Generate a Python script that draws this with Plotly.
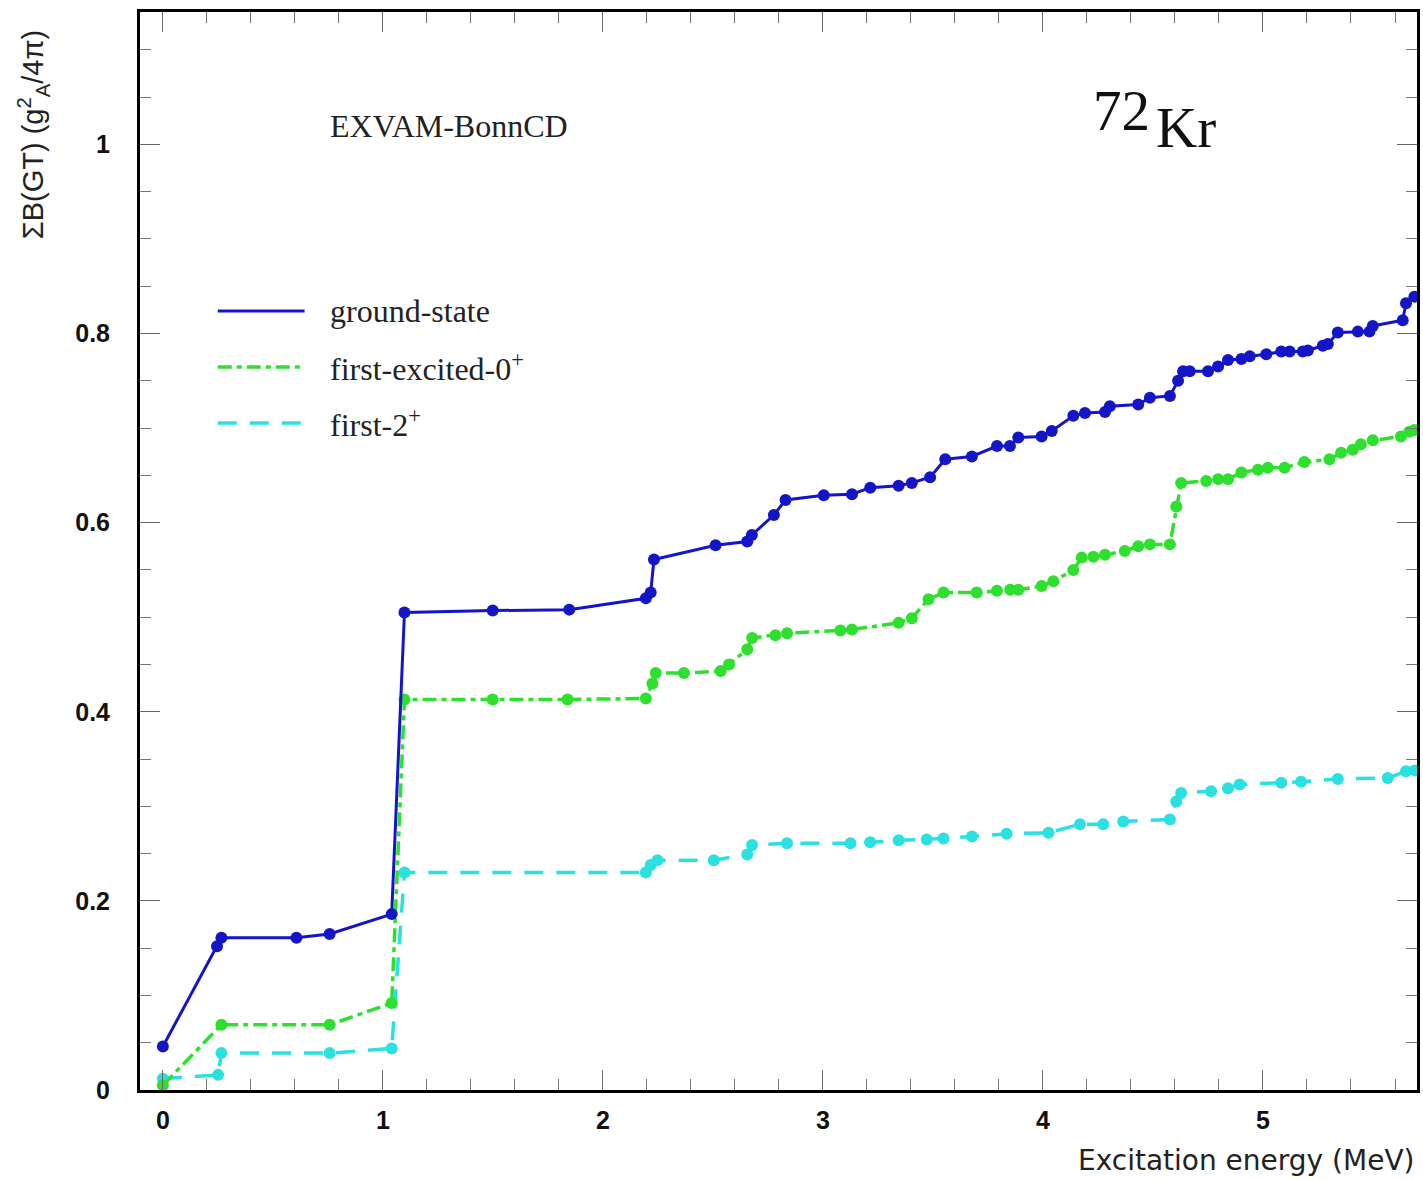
import plotly.graph_objects as go

# ---------------- data ----------------
gs_x = [0, 0.246, 0.266, 0.607, 0.758, 1.040, 1.098, 1.499, 1.847, 2.195, 2.217, 2.232,
        2.512, 2.656, 2.677, 2.777, 2.830, 3.004, 3.132, 3.215, 3.344, 3.404, 3.487, 3.556,
        3.677, 3.791, 3.850, 3.888, 3.994, 4.040, 4.138, 4.191, 4.282, 4.304, 4.433, 4.486,
        4.577, 4.614, 4.637, 4.667, 4.750, 4.796, 4.841, 4.902, 4.940, 5.015, 5.083, 5.121,
        5.181, 5.204, 5.272, 5.295, 5.340, 5.431, 5.484, 5.499, 5.635, 5.650, 5.688]
gs_y = [0.046, 0.152, 0.161, 0.161, 0.165, 0.186, 0.505, 0.507, 0.508, 0.520, 0.526, 0.561,
        0.576, 0.580, 0.587, 0.608, 0.624, 0.629, 0.630, 0.637, 0.639, 0.642, 0.648, 0.667,
        0.670, 0.681, 0.681, 0.690, 0.691, 0.697, 0.713, 0.716, 0.717, 0.723, 0.725, 0.732,
        0.734, 0.750, 0.760, 0.760, 0.760, 0.765, 0.772, 0.773, 0.776, 0.778, 0.781, 0.781,
        0.781, 0.782, 0.787, 0.789, 0.801, 0.802, 0.802, 0.808, 0.814, 0.832, 0.839]

ex0_x = [0, 0.266, 0.758, 1.040, 1.098, 1.499, 1.839, 2.195, 2.225, 2.240, 2.368, 2.535,
         2.573, 2.656, 2.678, 2.784, 2.837, 3.079, 3.132, 3.344, 3.404, 3.480, 3.548, 3.699,
         3.791, 3.851, 3.888, 3.994, 4.047, 4.138, 4.176, 4.229, 4.282, 4.372, 4.433, 4.486,
         4.577, 4.606, 4.628, 4.742, 4.796, 4.841, 4.902, 4.977, 5.022, 5.098, 5.188, 5.302,
         5.355, 5.408, 5.445, 5.499, 5.627, 5.665, 5.688]
ex0_y = [0.005, 0.069, 0.069, 0.092, 0.413, 0.413, 0.413, 0.414, 0.430, 0.441, 0.441, 0.443,
         0.450, 0.466, 0.478, 0.481, 0.483, 0.486, 0.487, 0.494, 0.499, 0.519, 0.526, 0.526,
         0.528, 0.529, 0.529, 0.533, 0.538, 0.550, 0.563, 0.564, 0.566, 0.570, 0.575, 0.577,
         0.577, 0.617, 0.642, 0.644, 0.646, 0.646, 0.653, 0.656, 0.658, 0.658, 0.664, 0.667,
         0.674, 0.677, 0.683, 0.687, 0.691, 0.696, 0.698]

f2_x = [0, 0.251, 0.266, 0.758, 1.040, 1.098, 2.195, 2.217, 2.248, 2.504, 2.656, 2.678,
        2.837, 3.125, 3.215, 3.344, 3.472, 3.548, 3.677, 3.835, 4.025, 4.168, 4.274, 4.365,
        4.577, 4.606, 4.628, 4.764, 4.841, 4.894, 5.083, 5.173, 5.340, 5.567, 5.650, 5.690]
f2_y = [0.012, 0.016, 0.039, 0.039, 0.044, 0.230, 0.230, 0.238, 0.243, 0.243, 0.249, 0.259,
        0.261, 0.261, 0.262, 0.264, 0.265, 0.266, 0.268, 0.271, 0.272, 0.281, 0.281, 0.284,
        0.286, 0.305, 0.314, 0.316, 0.319, 0.323, 0.325, 0.326, 0.329, 0.330, 0.337, 0.338]

series_names = ["ground-state", "first-excited-0<sup>+</sup>", "first-2<sup>+</sup>"]
x_ticks = [0, 1, 2, 3, 4, 5]
y_ticks = [0, 0.2, 0.4, 0.6, 0.8, 1]

# ---------------- styles ----------------
BLUE = "#1515c8"
GREEN = "#2ee02e"
CYAN = "#2ae0e0"
GREEN_DASH = "14px,5px,5px,5px"
CYAN_DASH = "19px,13px"

fig = go.Figure()
fig.add_trace(go.Scatter(x=f2_x, y=f2_y, mode="lines+markers", showlegend=False,
                         line=dict(color=CYAN, width=3.5, dash=CYAN_DASH),
                         marker=dict(color=CYAN, size=12)))
fig.add_trace(go.Scatter(x=ex0_x, y=ex0_y, mode="lines+markers", showlegend=False,
                         line=dict(color=GREEN, width=3.5, dash=GREEN_DASH),
                         marker=dict(color=GREEN, size=12)))
fig.add_trace(go.Scatter(x=gs_x, y=gs_y, mode="lines+markers", showlegend=False,
                         line=dict(color=BLUE, width=3),
                         marker=dict(color=BLUE, size=12)))

tickfont = dict(family="Liberation Sans, Arial", size=25, color="#111", weight="bold")

fig.update_xaxes(range=[-0.104, 5.70], tickvals=x_ticks, ticktext=[str(v) for v in x_ticks],
                 ticks="inside", ticklen=20, tickwidth=1, tickcolor="#666",
                 minor=dict(ticks="inside", dtick=0.2, tick0=0, ticklen=11, tickwidth=1, tickcolor="#777"),
                 showline=True, linewidth=3, linecolor="black", mirror="allticks",
                 showgrid=False, zeroline=False, tickfont=tickfont, ticklabelstandoff=6)
fig.update_yaxes(range=[0, 1.14], tickvals=y_ticks, ticktext=["0", "0.2", "0.4", "0.6", "0.8", "1"],
                 ticks="inside", ticklen=20, tickwidth=1, tickcolor="#666",
                 minor=dict(ticks="inside", dtick=0.05, tick0=0, ticklen=11, tickwidth=1, tickcolor="#777"),
                 showline=True, linewidth=3, linecolor="black", mirror="allticks",
                 showgrid=False, zeroline=False, tickfont=tickfont, ticklabelstandoff=22)

# legend drawn manually (line samples + labels)
leg_rows = [0.7226, 0.6707, 0.6187]
leg_styles = [(BLUE, 3, "solid"), (GREEN, 3.5, GREEN_DASH), (CYAN, 3.5, CYAN_DASH)]
shapes = []
annotations = []
for yy, (c, w, d), name in zip(leg_rows, leg_styles, series_names):
    shapes.append(dict(type="line", xref="paper", yref="paper", x0=0.0609, x1=0.1289,
                       y0=yy, y1=yy, line=dict(color=c, width=w, dash=d)))
    annotations.append(dict(xref="paper", yref="paper", x=0.1469, y=yy, xanchor="left",
                            yanchor="middle", text=name, showarrow=False,
                            font=dict(family="Liberation Serif, Times New Roman", size=32, color="#222")))

serif = "Liberation Serif, Times New Roman"
annotations += [
    dict(xref="paper", yref="paper", x=(328 - 140) / 1280, y=(1090 - 126) / 1078,
         xanchor="left", yanchor="middle", text="EXVAM-BonnCD", showarrow=False,
         font=dict(family=serif, size=32, color="#222")),
    dict(xref="paper", yref="paper", x=(1093 - 140) / 1280, y=(1090 - 111) / 1078,
         xanchor="left", yanchor="middle", text="72", showarrow=False,
         font=dict(family=serif, size=57, color="#111")),
    dict(xref="paper", yref="paper", x=(1156 - 140) / 1280, y=(1090 - 128) / 1078,
         xanchor="left", yanchor="middle", text="Kr", showarrow=False,
         font=dict(family=serif, size=57, color="#111")),
    dict(xref="paper", yref="paper", x=(1419 - 140) / 1280, y=(1090 - 1160) / 1078,
         xanchor="right", yanchor="middle", text="Excitation energy (MeV)", showarrow=False,
         font=dict(family="DejaVu Sans", size=28, color="#222")),
    dict(xref="paper", yref="paper", x=(33 - 140) / 1280, y=(1090 - 135) / 1078,
         xanchor="center", yanchor="middle", textangle=-90,
         text="ΣB(GT) (g<sup>2</sup><sub>A</sub>/4π)", showarrow=False,
         font=dict(family="Liberation Sans, Arial", size=29, color="#222")),
]

fig.update_layout(width=1423, height=1180, margin=dict(l=140, r=3, t=12, b=90),
                  paper_bgcolor="white", plot_bgcolor="white",
                  shapes=shapes, annotations=annotations, showlegend=False)

fig.write_html("out.html")
